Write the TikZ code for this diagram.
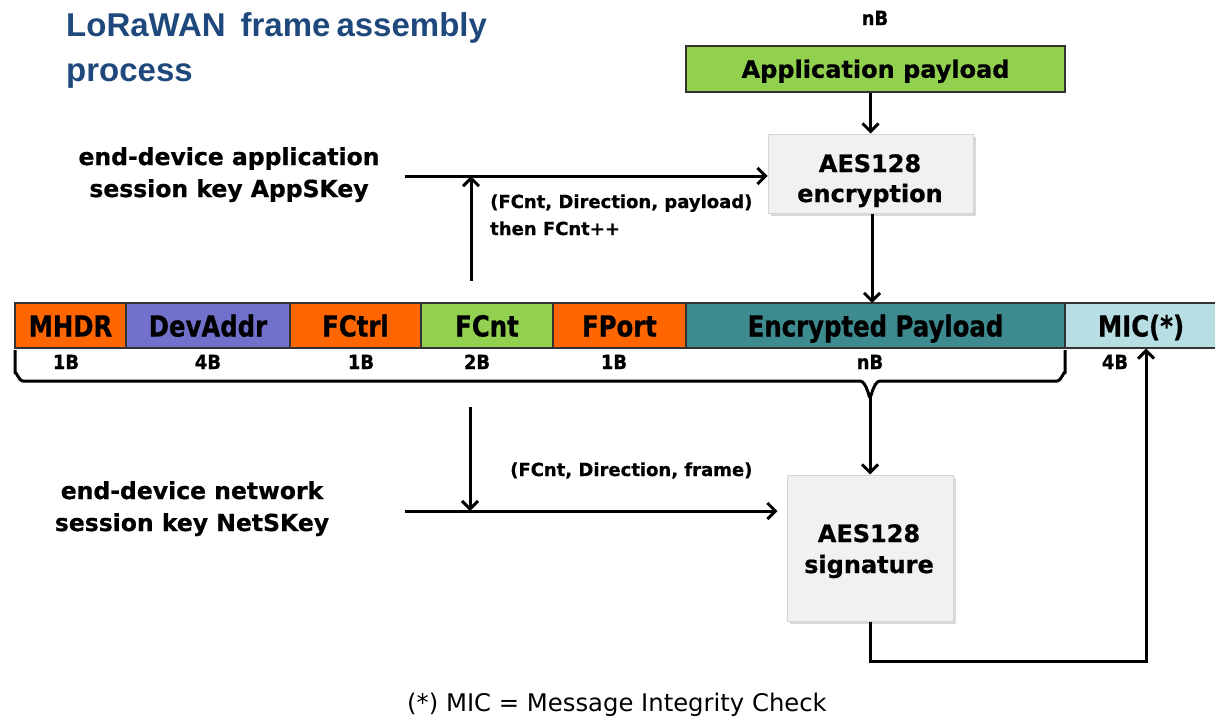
\documentclass[tikz,border=0pt]{standalone}
\usepackage{fontspec}
\setmainfont{DejaVu Sans}[BoldFeatures={FakeBold=0.7}]
\newfontfamily\titlefont{Liberation Sans}
\newfontfamily\narrowfont[FakeStretch=0.84,BoldFeatures={FakeBold=0.7}]{DejaVu Sans}
\newfontfamily\labfont[FakeStretch=0.92,BoldFeatures={FakeBold=0.7}]{DejaVu Sans}
\usetikzlibrary{arrows.meta,shadows}
\definecolor{titleblue}{HTML}{1F497D}
\definecolor{orangef}{HTML}{FF6600}
\definecolor{purplef}{HTML}{7171CC}
\definecolor{greenf}{HTML}{92D050}
\definecolor{tealf}{HTML}{3D8A8F}
\definecolor{micf}{HTML}{B7DEE3}
\definecolor{boxf}{HTML}{F1F1F1}
\definecolor{boxd}{HTML}{D4D4D4}
\definecolor{edge}{HTML}{333333}
\tikzset{
  conn/.style={line width=3pt, line cap=butt},
  arr/.style={conn, -{Straight Barb[length=8pt,width=16pt,line width=3pt]}},
  field/.style={draw=edge, line width=1.2pt, minimum height=45pt, inner sep=0pt,
    text height=22pt, text depth=0pt, font=\narrowfont\bfseries\fontsize{29}{34}\selectfont},
  bytes/.style={anchor=base, inner sep=0pt, font=\labfont\bfseries\fontsize{19.5}{22}\selectfont},
  aesbox/.style={draw=boxd, line width=1pt, fill=boxf, inner sep=0pt,
    drop shadow={shadow xshift=3pt, shadow yshift=-3pt, opacity=0.3, fill=gray}},
  aestext/.style={align=center, inner sep=0pt, anchor=base,
    font=\bfseries\fontsize{24}{30}\selectfont},
  keylabel/.style={align=center, inner sep=0pt, anchor=base,
    font=\bfseries\fontsize{23.5}{32}\selectfont},
  smalllabel/.style={align=left, inner sep=0pt, anchor=base west,
    font=\bfseries\fontsize{18}{27}\selectfont},
}
\begin{document}
\begin{tikzpicture}[x=1pt,y=-1pt]
\useasboundingbox (0,0) rectangle (1215,721);
\clip (0,0) rectangle (1215,721);
% title
\node[anchor=base west, inner sep=0pt, text=titleblue, font=\titlefont\bfseries\fontsize{33}{45}\selectfont] (title1) at (66,36) {LoRaWAN\hspace{15pt}frame\hspace{6pt}assembly};
\node[anchor=base west, inner sep=0pt, text=titleblue, font=\titlefont\bfseries\fontsize{33}{45}\selectfont] (title2) at (66,81) {process};
% application payload
\node[bytes] (nbtop) at (875,25) {nB};
\node[draw=edge, line width=1.2pt, fill=greenf, minimum width=379pt, minimum height=46pt, inner sep=0pt,
  text height=17.5pt, text depth=0pt,
  font=\bfseries\fontsize{24}{28}\selectfont] (app) at (875.5,69) {Application payload};
% AES encryption
\node[aesbox, minimum width=205pt, minimum height=79pt] (enc) at (870.5,173.5) {};
\node[aestext] (enctext) at (870,202) {AES128\\encryption};
% frame
\node[field, fill=orangef, minimum width=111pt] (mhdr) at (70.5,325.5) {MHDR};
\node[field, fill=purplef, minimum width=164pt] (devaddr) at (208,325.5) {DevAddr};
\node[field, fill=orangef, minimum width=131pt] (fctrl) at (355.5,325.5) {FCtrl};
\node[field, fill=greenf, minimum width=132pt] (fcnt) at (487,325.5) {FCnt};
\node[field, fill=orangef, minimum width=133pt] (fport) at (619.5,325.5) {FPort};
\node[field, fill=tealf, minimum width=379pt] (encp) at (875.5,325.5) {Encrypted Payload};
\node[field, fill=micf, minimum width=156pt] (mic) at (1143,325.5) {\hspace*{-4pt}MIC(*)};
% byte sizes
\node[bytes] (b1) at (66,369) {1B};
\node[bytes] (b2) at (208,369) {4B};
\node[bytes] (b3) at (361,369) {1B};
\node[bytes] (b4) at (477,369) {2B};
\node[bytes] (b5) at (614,369) {1B};
\node[bytes] (b6) at (870,369) {nB};
\node[bytes] (b7) at (1115,369) {4B};
% brace
\coordinate (btip) at (870,396);
\draw[conn, line join=round] (15,350) -- (15,373) to[out=90,in=180] (23,381) -- (860,381)
  to[out=0,in=-90] (btip) to[out=-90,in=180] (880,381) -- (1057,381)
  to[out=0,in=90] (1065,373) -- (1065,350);
\draw[conn] (btip) -- (870,406);
% AES signature
\node[aesbox, minimum width=166pt, minimum height=146pt] (sig) at (870,548) {};
\node[aestext, font=\bfseries\fontsize{24}{31}\selectfont] (sigtext) at (869,573) {AES128\\signature};
% key labels
\node[keylabel] (appskey) at (229,197) {end-device application\\session key AppSKey};
\node[keylabel] (netskey) at (192,531) {end-device network\\session key NetSKey};
\coordinate (appk) at (405,176);
\coordinate (netk) at (405,511);
\coordinate (fcup) at (471,281);
\coordinate (fcdn) at (470,407);
\node[smalllabel] (plabel) at (490,235) {(FCnt, Direction, payload)\\then FCnt++};
\node[smalllabel] (flabel) at (510,476) {(FCnt, Direction, frame)};
% connectors
\draw[arr] (enc.north |- app.south) -- (enc.north);
\draw[arr] (appk) -- (appk -| enc.west);
\draw[arr] (fcup) -- (fcup |- appk);
\draw[arr] (872,213.5) -- (872,303);
\draw[arr] (netk) -- ([xshift=-9pt]netk -| sig.west);
\draw[arr] (fcdn) -- (fcdn |- netk);
\draw[arr] (870,406) -- (sig.north);
\coordinate (micin) at (1146,348.5);
\coordinate (bend) at (1146,661);
\draw[arr, line join=miter] (sig.south) |- (bend) -- (micin);
% footnote
\node[anchor=base, inner sep=0pt, font=\fontsize{24.3}{28}\selectfont] (note) at (617,711) {(*) MIC = Message Integrity Check};
\end{tikzpicture}
\end{document}
